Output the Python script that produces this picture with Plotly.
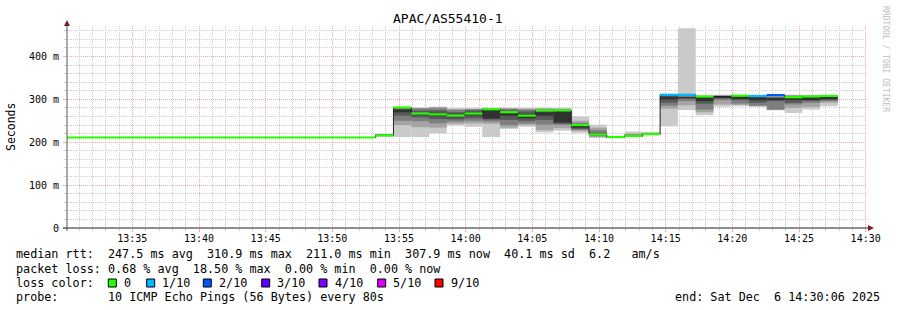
import plotly.graph_objects as go
from datetime import datetime, timedelta

# ---------------- data ----------------
title = "APAC/AS55410-1"
step_seconds = 80
first_step = "2025-12-06 13:53:15"
flat_start = "2025-12-06 13:29:15"
flat_median = 211.0
view_start = "2025-12-06 13:30:06"
view_end = "2025-12-06 14:30:06"

median = [216, 281, 267, 265, 262, 267, 277, 270, 262, 274, 274.5, 240, 218, 212, 214.5, 219,
          310.7, 310.5, 306.7, 306, 308.6, 308, 310, 305, 307, 307.9]
# lost pings per step (None = no loss value recorded, median band not coloured)
loss = [0, 0, 0, 0, 0, 0, 0, 0, 0, 0, 0, 0, 0, 0, 0, 0,
        1, 1, 0, None, 0, 1, 2, 0, 0, 0]

ping1 = [214, 212, 212, 221, 239, 236, 212, 231, 236, 223, 227, 222, 210, 210, 212, 216, 237, 275, 263, 283, 284, 283, 275, 268, 276, 284]
ping2 = [215, 240, 235, 234, 243, 244, 243, 234, 240, 228, 233, 226, 212, 211, 213, 217, 278, 286, 270, 288, 287, 284, 275, 280, 282, 292]
ping3 = [215, 250, 249, 244, 248, 250, 248, 240, 244, 241, 241, 229, 214, 211, 213, 218, 285, 296, 276, 298, 290, 285, 276, 288, 292, 296]
ping4 = [216, 262, 258, 254, 253, 256, 253, 252, 250, 252, 243, 231, 216, 212, 214, 218, 292, 303, 290, 302, 298, 292, 296, 292, 296, 298]
ping5 = [216, 270, 264, 261, 258, 263, 255, 262, 256, 262, 246, 234, 217, 212, 214, 219, 300, 304, 296, 304, 302, 298, 300, 300, 300, 301]
ping6 = [216, 276, 268, 268, 264, 270, 275, 268, 266, 270, 271, 240, 219, 212, 215, 219, 306, 305, 304, 306, 305, 304, 302, 304, 304, 304]
ping7 = [216, 279, 274, 274, 270, 274, 277, 274, 272, 274, 274, 242, 222, 213, 216, 220, 309, 306, 306, 307, 307, 306, 304, 306, 306, 306]
ping8 = [217, 280, 279, 279, 275, 277, 278, 278, 276, 277, 276, 245, 228, 213, 218, 221, 310, 307, 307, 308, 308, 307, 306, 308, 307, 307]
ping9 = [217, 281, 280, 282, 278, 278, 279, 279, 278, 279, 278, 250, 234, 214, 220, 222, 311, 310, 308, 310, 309, 308, 309, 310, 308, 308]
ping10 = [218, 282, 281, 283, 279, 279, 280, 280, 280, 280, 280, 260, 241, 215, 225, 224, 312, 466, 309, 311, 310, 309, 311, 311, 309, 309]

loss_levels = [0, 1, 2, 3, 4, 5, 9]
loss_labels = ["0", "1/10", "2/10", "3/10", "4/10", "5/10", "9/10"]
loss_colors = ["#26ff00", "#00b8ff", "#0059ff", "#5e00ff", "#7e00ff", "#dd00ff", "#ff0000"]
smoke_colors = ["#cacaca", "#a4a4a4", "#7e7e7e", "#585858", "#323232"]

y_tick_vals = [0, 100, 200, 300, 400]
y_tick_text = ["0", "100 m", "200 m", "300 m", "400 m"]

stats_line1 = "median rtt:  247.5 ms avg  310.9 ms max  211.0 ms min  307.9 ms now  40.1 ms sd  6.2   am/s"
stats_line2 = "packet loss: 0.68 % avg  18.50 % max  0.00 % min  0.00 % now"
probe_line = "probe:       10 ICMP Echo Pings (56 Bytes) every 80s"
end_line = "end: Sat Dec  6 14:30:06 2025"
watermark = "RRDTOOL / TOBI OETIKER"

# ---------------- build ----------------
fmt = "%Y-%m-%d %H:%M:%S"
t0 = datetime.strptime(first_step, fmt)
fs = datetime.strptime(flat_start, fmt)
n = len(median)
starts = [t0 + timedelta(seconds=step_seconds * i) for i in range(n)]
ends = [s + timedelta(seconds=step_seconds) for s in starts]
centers = [s + timedelta(seconds=step_seconds / 2) for s in starts]
w_ms = step_seconds * 1000

fig = go.Figure()
pings = [ping1, ping2, ping3, ping4, ping5, ping6, ping7, ping8, ping9, ping10]
for k in range(5):
    lo = pings[k]
    hi = pings[9 - k]
    fig.add_trace(go.Bar(x=centers, base=lo, y=[h - l for h, l in zip(hi, lo)],
                         width=[w_ms] * n, marker=dict(color=smoke_colors[k], line=dict(width=0)),
                         hoverinfo="skip", showlegend=False))

line_x = [fs] + starts + [ends[-1]]
line_y = [flat_median] + median + [median[-1]]
fig.add_trace(go.Scatter(x=line_x, y=line_y, mode="lines",
                         line=dict(shape="hv", color="#202020", width=1),
                         hoverinfo="skip", showlegend=False))

# coloured median band (per loss level)
seg_start = [fs] + starts
seg_end = [t0] + ends
seg_med = [flat_median] + median
seg_loss = [0] + loss
for lvl, col in zip(loss_levels, loss_colors):
    xs, ys = [], []
    for a, b, m, l in zip(seg_start, seg_end, seg_med, seg_loss):
        if l == lvl:
            xs += [a, b, None]
            ys += [m, m, None]
    if not xs:
        continue
    fig.add_trace(go.Scatter(x=xs, y=ys, mode="lines", line=dict(color=col, width=2.2),
                             connectgaps=False, hoverinfo="skip", showlegend=False))

MONO = "DejaVu Sans Mono"
major_c = "#f0aaaa"
minor_c = "#cccccc"

fig.update_layout(width=897, height=310, margin=dict(l=67, r=30, t=26, b=82),
                  paper_bgcolor="white", plot_bgcolor="white", barmode="overlay",
                  showlegend=False, font=dict(family=MONO, size=10, color="black"))
fig.update_xaxes(type="date", range=[view_start, view_end], tickformat="%H:%M",
                 dtick=300000, tick0="2025-12-06 13:35:00",
                 showgrid=True, gridcolor=major_c, griddash="1px,1px", gridwidth=1,
                 ticks="outside", ticklen=3, tickcolor=major_c, ticklabelstandoff=-2,
                 minor=dict(dtick=60000, tick0="2025-12-06 13:35:00", showgrid=True,
                            gridcolor=minor_c, griddash="1px,1px", ticks="outside",
                            ticklen=2, tickcolor=minor_c),
                 zeroline=False, showline=False, tickfont=dict(family=MONO, size=10))
fig.update_yaxes(range=[0, 471], tickmode="array", tickvals=y_tick_vals, ticktext=y_tick_text,
                 showgrid=True, gridcolor=major_c, griddash="1px,1px", gridwidth=1,
                 ticks="outside", ticklen=3, tickcolor=major_c, ticklabelstandoff=2,
                 minor=dict(tickmode="linear", tick0=0, dtick=20, showgrid=True,
                            gridcolor=minor_c, griddash="1px,1px", ticks="outside",
                            ticklen=2, tickcolor=minor_c),
                 zeroline=False, showline=False, tickfont=dict(family=MONO, size=10))


def pxx(x):
    return (x - 67) / 800.0


def pxy(y):
    return (228 - y) / 202.0


def text(x, y, s, size=11.75, anchor="left", color="black", angle=0):
    fig.add_annotation(x=pxx(x), y=pxy(y), xref="paper", yref="paper",
                       text=s.replace(" ", "\u00a0"), showarrow=False, xanchor=anchor,
                       yanchor="middle", borderpad=0,
                       font=dict(family=MONO, size=size, color=color), textangle=angle)


# axes lines and arrows
fig.add_shape(type="line", xref="paper", yref="paper", x0=pxx(63), x1=pxx(869), y0=0, y1=0,
              line=dict(color="#1f1f1f", width=1))
fig.add_shape(type="line", xref="paper", yref="paper", x0=0, x1=0, y0=pxy(231), y1=pxy(24),
              line=dict(color="#555555", width=1))
fig.add_shape(type="path", xref="paper", yref="paper",
              path=f"M {pxx(868)} {pxy(225)} L {pxx(874)} {pxy(228)} L {pxx(868)} {pxy(231)} Z",
              fillcolor="#7f1f1f", line=dict(width=0))
fig.add_shape(type="path", xref="paper", yref="paper",
              path=f"M {pxx(64)} {pxy(26)} L {pxx(67)} {pxy(20)} L {pxx(70)} {pxy(26)} Z",
              fillcolor="#7f1f1f", line=dict(width=0))

# titles
text(448, 19, title, size=13, anchor="center")
text(11, 127, "Seconds", size=11.5, anchor="center", angle=-90)
text(886, 59, watermark, size=8, anchor="center", color="#bdbdbd", angle=90)

# legend
text(15, 254, stats_line1)
text(15, 268.5, stats_line2)
text(15, 283, "loss color:")
box_left = [108.3, 146.7, 203.3, 261.7, 319, 377.7, 435]
for bx, lab, col in zip(box_left, loss_labels, loss_colors):
    fig.add_shape(type="rect", xref="paper", yref="paper",
                  x0=pxx(bx), x1=pxx(bx + 8), y0=pxy(279), y1=pxy(287),
                  fillcolor=col, line=dict(color="black", width=1))
    text(bx + 14.5, 283, lab)
text(15, 297, probe_line)
text(881, 297, end_line, anchor="right")

fig.write_html("out.html")
